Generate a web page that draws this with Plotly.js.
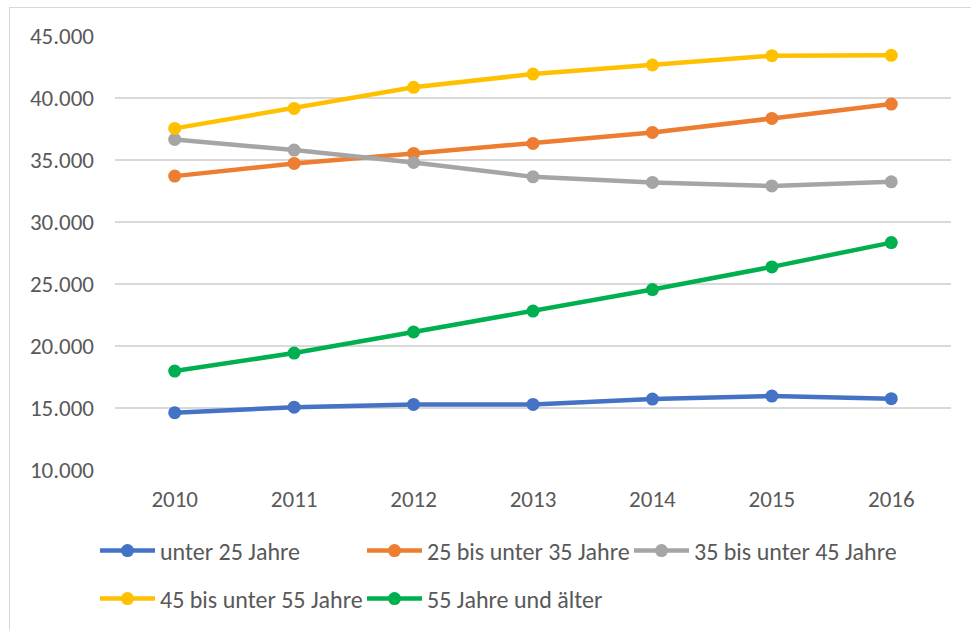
<!DOCTYPE html>
<html>
<head>
<meta charset="utf-8">
<script src="https://cdn.plot.ly/plotly-3.0.1.min.js"></script>
<style>
  html, body { margin: 0; padding: 0; background: #fff; }
  #wrap { position: relative; width: 971px; height: 630px; overflow: hidden; }
  #chart { position: absolute; left: 0; top: 0; width: 971px; height: 630px; }
  #frame { position: absolute; left: 9px; top: 7px; width: 1200px; height: 900px;
           border-left: 1px solid #D9D9D9; border-top: 1px solid #D9D9D9; pointer-events: none; }
</style>
</head>
<body>
<div id="wrap">
  <div id="chart"></div>
  <div id="frame"></div>
</div>
<script>
const years = ["2010", "2011", "2012", "2013", "2014", "2015", "2016"];
const seriesNames = ["unter 25 Jahre", "25 bis unter 35 Jahre", "35 bis unter 45 Jahre", "45 bis unter 55 Jahre", "55 Jahre und älter"];
const unter25 = [14620, 15070, 15290, 15290, 15720, 15960, 15750];
const von25bis35 = [33700, 34720, 35530, 36340, 37220, 38350, 39510];
const von35bis45 = [36660, 35800, 34800, 33640, 33190, 32910, 33240];
const von45bis55 = [37550, 39160, 40860, 41930, 42660, 43410, 43440];
const ab55 = [17980, 19430, 21130, 22820, 24550, 26380, 28340];
const yTicks = [10000, 15000, 20000, 25000, 30000, 35000, 40000, 45000];

const colors = ["#4472C4", "#ED7D31", "#A5A5A5", "#FFC000", "#00B050"];
const allSeries = [unter25, von25bis35, von35bis45, von45bis55, ab55];
const fontFam = "Carlito, Calibri, Lato, sans-serif";

const traces = allSeries.map((vals, i) => ({
  type: "scatter",
  mode: "lines+markers",
  x: years,
  y: vals,
  name: seriesNames[i],
  legend: i < 3 ? "legend" : "legend2",
  line: { color: colors[i], width: 4.5 },
  marker: { color: colors[i], size: 13 },
  cliponaxis: false
}));

const legendCommon = {
  orientation: "h",
  xref: "container", yref: "container",
  xanchor: "left", yanchor: "middle",
  itemwidth: 55,
  entrywidth: 197,
  entrywidthmode: "pixels",
  font: { family: fontFam, size: 24, color: "#595959" },
  bgcolor: "rgba(0,0,0,0)",
  traceorder: "normal"
};

const layout = {
  width: 971, height: 630,
  margin: { l: 115, r: 20, t: 36, b: 160 },
  paper_bgcolor: "rgba(0,0,0,0)",
  plot_bgcolor: "rgba(0,0,0,0)",
  separators: ",.",
  showlegend: true,
  font: { family: fontFam, color: "#595959", size: 23 },
  xaxis: {
    type: "category",
    range: [-0.5, 6.5],
    showgrid: false,
    zeroline: false,
    showline: false,
    ticks: "",
    ticklabelstandoff: 13,
    tickfont: { family: fontFam, size: 23, color: "#595959" }
  },
  yaxis: {
    range: [10000, 45000],
    tickvals: yTicks,
    tickformat: ",.0f",
    showgrid: true,
    gridcolor: "#D9D9D9",
    gridwidth: 1.3,
    zeroline: false,
    showline: false,
    ticks: "",
    ticklabelstandoff: 20,
    tickfont: { family: fontFam, size: 23, color: "#595959" }
  },
  legend: Object.assign({}, legendCommon, { x: 95 / 971, y: (630 - 551) / 630 }),
  legend2: Object.assign({}, legendCommon, { x: 95 / 971, y: (630 - 599) / 630 })
};

Plotly.newPlot("chart", traces, layout, { staticPlot: true, displayModeBar: false });
</script>
</body>
</html>
